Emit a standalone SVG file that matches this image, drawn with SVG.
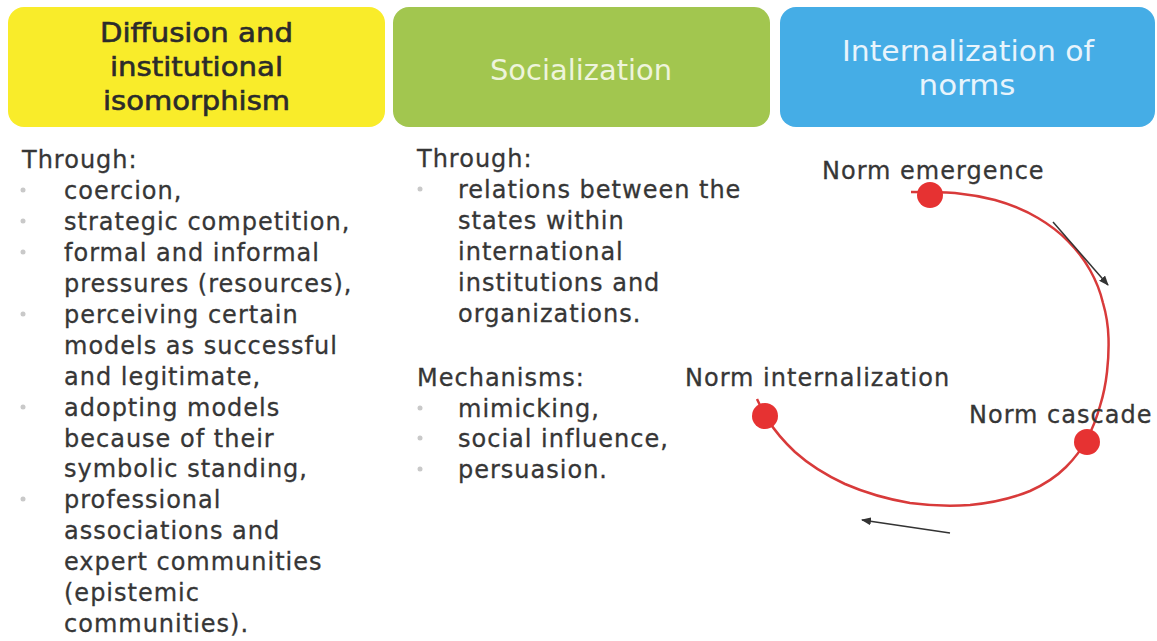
<svg xmlns="http://www.w3.org/2000/svg" width="1157" height="641" viewBox="0 0 1157 641">
<style>
.hdr{font-family:"DejaVu Sans","Liberation Sans",sans-serif;font-size:26px;text-anchor:middle;stroke:#2b2b2b;stroke-width:0.6}
.hdrc{font-family:"DejaVu Sans Condensed","DejaVu Sans","Liberation Sans",sans-serif;font-stretch:condensed;font-size:29px;text-anchor:middle}
.body{font-family:"DejaVu Sans","Liberation Sans",sans-serif;font-size:24px;letter-spacing:1px;fill:#363636;stroke:#363636;stroke-width:0.3}
.bul{fill:#c9c9c9}
.lbl{font-family:"DejaVu Sans","Liberation Sans",sans-serif;font-size:24px;letter-spacing:1px;fill:#363636;stroke:#363636;stroke-width:0.3}
.dot{fill:#e63232}
.cyc{fill:none;stroke:#d83a3a;stroke-width:2.5}
.arr{fill:none;stroke:#333;stroke-width:1.5;marker-end:url(#ah)}
</style>
<defs>
<marker id="ah" markerWidth="10" markerHeight="8" refX="9" refY="4" orient="auto" markerUnits="userSpaceOnUse">
<path d="M0,0 L10,4 L0,8 Z" fill="#333"/>
</marker>
</defs>
<rect width="1157" height="641" fill="#ffffff"/>

<g id="box-diffusion">
<rect x="8" y="7" width="377" height="120" rx="16" fill="#f9ec2a"/>
<text class="hdr" fill="#2b2b2b" x="196.5" y="42" textLength="193" lengthAdjust="spacingAndGlyphs">Diffusion and</text>
<text class="hdr" fill="#2b2b2b" x="196.5" y="76" textLength="173" lengthAdjust="spacingAndGlyphs">institutional</text>
<text class="hdr" fill="#2b2b2b" x="196.5" y="110" textLength="187" lengthAdjust="spacingAndGlyphs">isomorphism</text>
</g>

<g id="box-socialization">
<rect x="393" y="7" width="377" height="120" rx="16" fill="#a2c64f"/>
<text class="hdrc" fill="#eef4dc" x="581" y="80" textLength="182" lengthAdjust="spacingAndGlyphs">Socialization</text>
</g>

<g id="box-internalization">
<rect x="780" y="7" width="375" height="120" rx="16" fill="#45ade6"/>
<text class="hdrc" fill="#e8f4fc" x="968" y="61" textLength="252" lengthAdjust="spacingAndGlyphs">Internalization of</text>
<text class="hdrc" fill="#e8f4fc" x="967" y="95" textLength="97" lengthAdjust="spacingAndGlyphs">norms</text>
</g>

<g id="col-diffusion">
<text class="body" x="22" y="168">Through:</text>
<circle class="bul" cx="23" cy="190" r="2.5"/>
<text class="body" x="64" y="199">coercion,</text>
<circle class="bul" cx="23" cy="221" r="2.5"/>
<text class="body" x="64" y="230">strategic competition,</text>
<circle class="bul" cx="23" cy="252" r="2.5"/>
<text class="body" x="64" y="261">formal and informal</text>
<text class="body" x="64" y="292">pressures (resources),</text>
<circle class="bul" cx="23" cy="314" r="2.5"/>
<text class="body" x="64" y="323">perceiving certain</text>
<text class="body" x="64" y="354">models as successful</text>
<text class="body" x="64" y="385">and legitimate,</text>
<circle class="bul" cx="23" cy="407" r="2.5"/>
<text class="body" x="64" y="416">adopting models</text>
<text class="body" x="64" y="447">because of their</text>
<text class="body" x="64" y="477">symbolic standing,</text>
<circle class="bul" cx="23" cy="499" r="2.5"/>
<text class="body" x="64" y="508">professional</text>
<text class="body" x="64" y="539">associations and</text>
<text class="body" x="64" y="570">expert communities</text>
<text class="body" x="64" y="601">(epistemic</text>
<text class="body" x="64" y="632">communities).</text>
</g>

<g id="col-socialization">
<text class="body" x="417" y="167">Through:</text>
<circle class="bul" cx="420" cy="189" r="2.5"/>
<text class="body" x="458" y="198">relations between the</text>
<text class="body" x="458" y="229">states within</text>
<text class="body" x="458" y="260">international</text>
<text class="body" x="458" y="291">institutions and</text>
<text class="body" x="458" y="322">organizations.</text>
<text class="body" x="417" y="386">Mechanisms:</text>
<circle class="bul" cx="420" cy="408" r="2.5"/>
<text class="body" x="458" y="417">mimicking,</text>
<circle class="bul" cx="420" cy="438" r="2.5"/>
<text class="body" x="458" y="447">social influence,</text>
<circle class="bul" cx="420" cy="469" r="2.5"/>
<text class="body" x="458" y="478">persuasion.</text>
</g>

<g id="connectors">
<path class="cyc" d="M911 192 Q940 192 955 193 Q975 195 995 200 Q1020 207 1038 218 Q1055 228 1068 241 Q1081 254 1090 270 Q1099 286 1103 303 Q1108 320 1108.5 338 Q1109 355 1107 372 Q1105 390 1100 406 Q1095 424 1087 439 Q1079 454 1066 467 Q1052 481 1030 491 Q1003 502 970 505 Q940 507 910 503 Q875 497 845 484 Q815 470 795 452 Q778 436 768 420 Q762 410 757 399"/>
<line class="arr" x1="1053" y1="222" x2="1108" y2="285"/>
<line class="arr" x1="950" y1="533" x2="862" y2="520"/>
</g>

<g id="node-emergence">
<circle class="dot" cx="930" cy="195" r="13"/>
<text class="lbl" x="822" y="179">Norm emergence</text>
</g>
<g id="node-cascade">
<circle class="dot" cx="1087" cy="442" r="13"/>
<text class="lbl" x="969" y="423">Norm cascade</text>
</g>
<g id="node-internalization">
<circle class="dot" cx="765" cy="416" r="13"/>
<text class="lbl" x="685" y="386">Norm internalization</text>
</g>
</svg>
